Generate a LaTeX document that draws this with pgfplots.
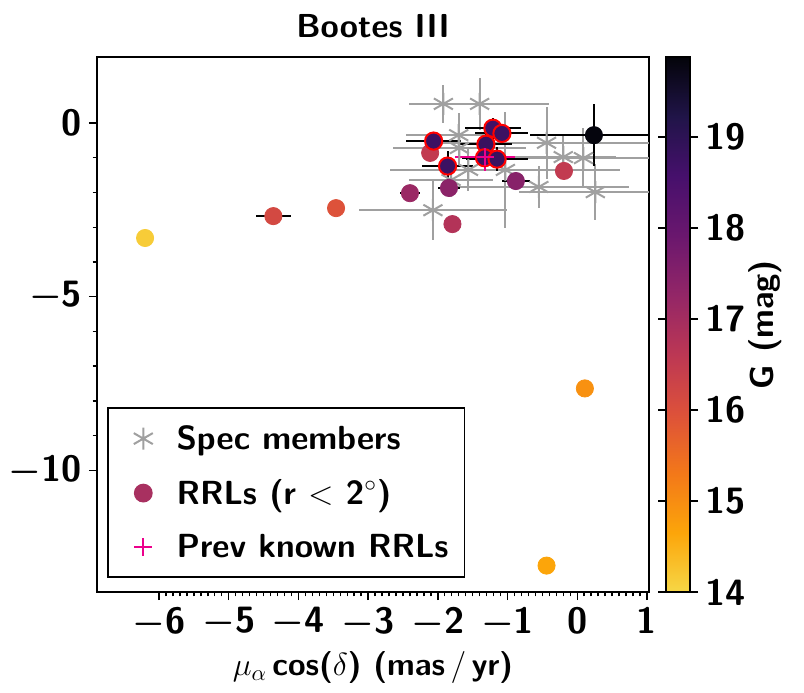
\RequirePackage{fix-cm}
\documentclass[border=0pt]{standalone}
\usepackage{pgfplots}
\usepackage{pgfplotstable}
\pgfplotsset{compat=1.18}

% inferno-like map, yellow (bright) to black (faint)
\pgfplotsset{colormap={infr}{rgb255=(246,215,70) rgb255=(252,165,10) rgb255=(243,120,25)
  rgb255=(221,81,58) rgb255=(188,55,84) rgb255=(147,38,103) rgb255=(106,23,110)
  rgb255=(70,16,108) rgb255=(32,20,72) rgb255=(4,4,10)}}
\definecolor{specgray}{RGB}{160,160,160}
\definecolor{rrlleg}{RGB}{168,48,96}

% spectroscopic members: pmra, pmdec, errors
\pgfplotstableread{
x y ex ey
-1.92 0.55 0.50 0.55
-1.40 0.55 1.00 0.75
-1.70 -0.35 0.75 0.65
-1.69 -0.72 0.95 0.55
-0.44 -0.57 1.60 1.04
-0.20 -0.98 0.75 0.60
0.09 -1.01 1.10 0.87
-0.55 -1.84 1.30 0.60
0.26 -1.99 1.10 0.80
-2.07 -2.51 1.06 0.85
-1.56 -1.35 1.10 0.60
-1.03 -1.35 1.65 1.68
-1.81 -1.64 0.60 0.50
}\spec

% RR Lyrae within 2 deg: pmra, pmdec, errors, G
\pgfplotstableread{
x y ex ey g
-6.20 -3.31 0.00 0.00 14.15
-4.36 -2.68 0.25 0.00 16.15
-3.46 -2.45 0.00 0.00 15.95
0.11 -7.64 0.00 0.00 14.95
-0.44 -12.74 0.00 0.00 14.65
0.24 -0.35 0.92 0.90 19.85
-0.19 -1.38 0.00 0.00 16.50
-0.88 -1.67 0.20 0.05 17.45
-2.40 -2.02 0.14 0.00 17.15
-1.84 -1.87 0.16 0.23 17.40
-1.79 -2.91 0.12 0.00 16.75
-2.11 -0.86 0.00 0.00 16.50
}\rrl

% faint RR Lyrae (red edge)
\pgfplotstableread{
x y ex ey g
-2.06 -0.52 0.39 0.22 18.75
-1.86 -1.24 0.36 0.43 18.75
-1.21 -0.15 0.40 0.30 18.70
-1.08 -0.30 0.38 0.28 18.75
-1.31 -0.61 0.38 0.30 18.80
-1.33 -1.00 0.32 0.30 18.75
-1.15 -1.04 0.45 0.35 18.80
}\rrlfaint

% previously known RR Lyrae
\pgfplotstableread{
x y ex ey
-1.32 -0.99 0.43 0.39
}\prev

\begin{document}
\begin{tikzpicture}[font=\sffamily\bfseries\fontsize{16}{19}\selectfont]
\path[use as bounding box] (-48.5pt,-50pt) rectangle (353.5pt,296pt);
\begin{axis}[
  at={(0,0)}, anchor=south west,
  width=276pt, height=267.5pt, scale only axis,
  xmin=-6.89, xmax=1.03, ymin=-13.5, ymax=1.9,
  axis line style={line width=0.9pt},
  tick align=outside, tick pos=left,
  major tick length=4pt, minor tick length=2.2pt,
  every tick/.style={black, line width=0.7pt},
  xtick={-6,...,1},
  xticklabels={$-$6,$-$5,$-$4,$-$3,$-$2,$-$1,0,1},
  ytick={-10,-5,0},
  yticklabels={$-$10,$-$5,0},
  minor x tick num=9, minor y tick num=4,
  tick label style={font=\sffamily\bfseries\boldmath\fontsize{18.3}{22}\selectfont},
  title={Bootes III},
  title style={font=\sffamily\bfseries\fontsize{16.6}{20}\selectfont},
  xlabel={$\mu_\alpha\,$cos($\delta$) (mas$\,/\,$yr)},
  colormap name=infr,
  point meta min=14, point meta max=19.88,
  colorbar,
  colorbar style={
    width=12pt,
    at={([xshift=12.5pt]parent axis.south east)}, anchor=south west,
    ytick={14,...,19},
    yticklabels={14,15,16,17,18,19},
    tick align=outside, major tick length=4pt,
    yticklabel style={font=\sffamily\bfseries\fontsize{18.3}{22}\selectfont},
    ylabel={G (mag)},
    ylabel style={at={(axis description cs:4.15,0.5)}, anchor=center,
      font=\sffamily\bfseries\fontsize{16.6}{20}\selectfont},
    axis line style={line width=0.6pt},
  },
  legend image code/.code={\path (0cm,-0.1cm) (0.9cm,0.1cm);
    \draw[#1] plot coordinates {(0.4cm,0cm)};},
  legend style={at={(0.018,0.026)}, anchor=south west, draw=black, line width=0.8pt,
    font=\sffamily\bfseries\fontsize{16.7}{20}\selectfont, row sep=9.5pt,
    inner xsep=6pt, inner ysep=6.5pt},
  legend cell align=left,
]
% spectroscopic members with their uncertainties
\addplot[forget plot, only marks, mark=asterisk, mark size=5.5pt, color=specgray,
  mark options={line width=1pt},
  error bars/.cd, x dir=both, x explicit, y dir=both, y explicit,
  error mark=none, error bar style={specgray, line width=1pt}]
  table[x=x, y=y, x error=ex, y error=ey] {\spec};
% RR Lyrae coloured by G
\addplot[forget plot, scatter, only marks, mark=*, mark size=4.3pt,
  scatter src=explicit,
  scatter/use mapped color={draw=mapped color, fill=mapped color},
  error bars/.cd, x dir=both, x explicit, y dir=both, y explicit,
  error mark=none, error bar style={black, line width=1pt}]
  table[x=x, y=y, x error=ex, y error=ey, meta=g] {\rrl};
\addplot[forget plot, scatter, only marks, mark=*, mark size=4.3pt,
  scatter src=explicit,
  scatter/use mapped color={draw=red, fill=mapped color},
  mark options={line width=1pt},
  error bars/.cd, x dir=both, x explicit, y dir=both, y explicit,
  error mark=none, error bar style={black, line width=1pt}]
  table[x=x, y=y, x error=ex, y error=ey, meta=g] {\rrlfaint};
\addplot[forget plot, only marks, mark=+, mark size=4.5pt, color=magenta,
  mark options={line width=1pt},
  error bars/.cd, x dir=both, x explicit, y dir=both, y explicit,
  error mark=none, error bar style={magenta, line width=1pt}]
  table[x=x, y=y, x error=ex, y error=ey] {\prev};
% legend entries
\addlegendimage{only marks, mark=asterisk, mark size=5.5pt, color=specgray, mark options={line width=1pt}}
\addlegendentry{Spec members}
\addlegendimage{only marks, mark=*, mark size=4.3pt, color=rrlleg}
\addlegendentry{RRLs (r $<$ 2$^\circ$)}
\addlegendimage{only marks, mark=+, mark size=4.5pt, color=magenta, mark options={line width=0.8pt}}
\addlegendentry{Prev known RRLs}
\end{axis}
\end{tikzpicture}
\end{document}
